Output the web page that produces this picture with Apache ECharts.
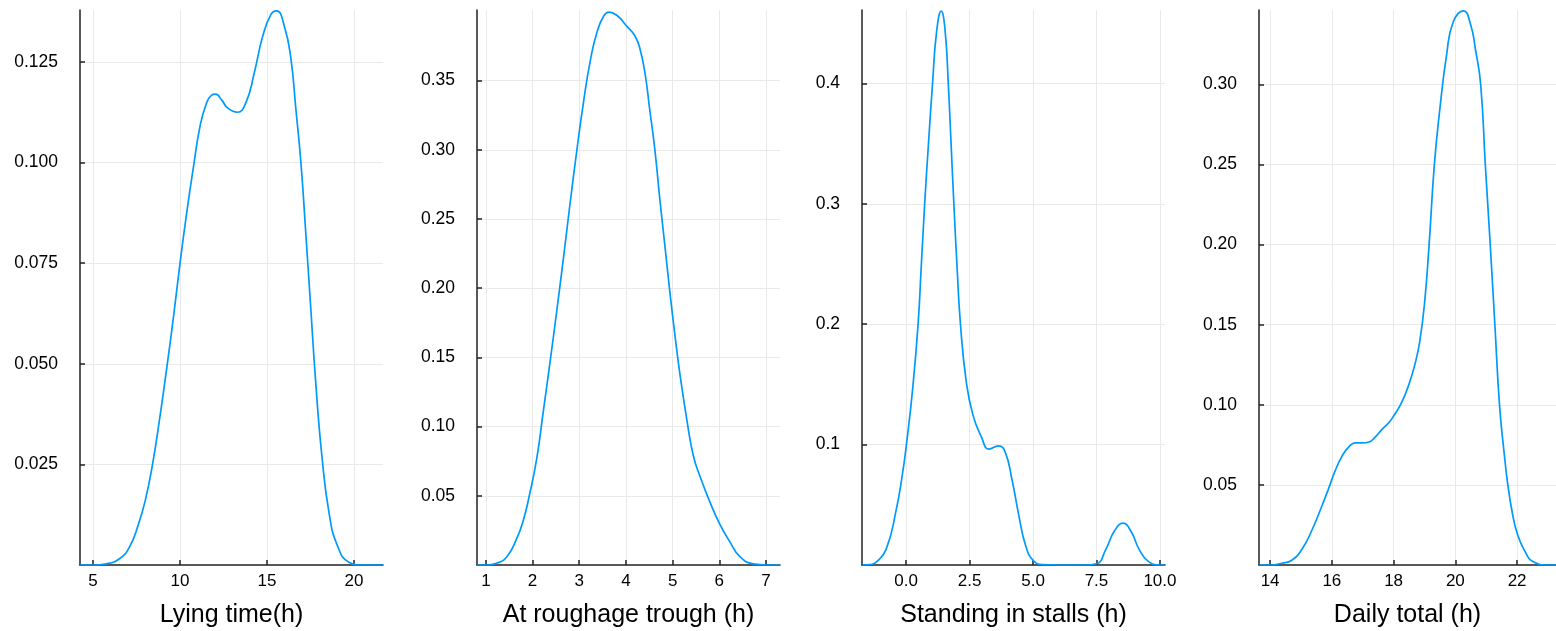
<!DOCTYPE html>
<html>
<head>
<meta charset="utf-8">
<title>Density plots</title>
<script src="https://cdn.jsdelivr.net/npm/echarts@6/dist/echarts.min.js"></script>
<style>
  html, body { margin: 0; padding: 0; background: #fff; }
  #chart { width: 1556px; height: 631px; }
</style>
</head>
<body>
<div id="chart"></div>
<script>
// panel titles
var panelNames = ['Lying time(h)', 'At roughage trough (h)', 'Standing in stalls (h)', 'Daily total (h)'];

// Lying time
var lyingX = [4.25, 5, 5.77, 6.54, 7.1, 7.6, 8.0, 8.42, 8.85, 9.27, 9.65, 10.0, 10.4, 10.81, 11.15, 11.5, 11.8, 12.05, 12.4, 12.75, 13.3, 13.8, 14.27, 14.75, 15.23, 15.55, 15.99, 16.37, 16.66, 16.95, 17.23, 17.52, 17.8, 18.15, 18.57, 19.05, 19.71, 20.48, 21.67];
var lyingY = [0, 0, 0.0003, 0.0016, 0.0045, 0.010, 0.016, 0.025, 0.037, 0.050, 0.0625, 0.075, 0.088, 0.100, 0.109, 0.1145, 0.1167, 0.117, 0.1155, 0.1135, 0.1125, 0.115, 0.1223, 0.1313, 0.1368, 0.1377, 0.134, 0.126, 0.1133, 0.100, 0.0825, 0.0636, 0.0455, 0.0274, 0.0129, 0.0048, 0.0007, 0, 0];

// At roughage trough
var troughX = [0.81, 1.0, 1.23, 1.45, 1.66, 1.80, 1.93, 2.09, 2.23, 2.38, 2.52, 2.67, 2.81, 2.95, 3.10, 3.24, 3.38, 3.53, 3.64, 3.81, 4.0, 4.19, 4.3, 4.41, 4.51, 4.62, 4.73, 4.84, 4.94, 5.05, 5.16, 5.3, 5.44, 5.59, 5.8, 6.01, 6.23, 6.44, 6.73, 7.01, 7.3];
var troughY = [0, 0, 0.0013, 0.006, 0.019, 0.032, 0.050, 0.077, 0.111, 0.148, 0.184, 0.224, 0.263, 0.300, 0.3365, 0.365, 0.385, 0.397, 0.3995, 0.397, 0.390, 0.3824, 0.373, 0.355, 0.329, 0.300, 0.263, 0.229, 0.1975, 0.166, 0.137, 0.106, 0.0795, 0.0637, 0.0454, 0.0296, 0.0165, 0.006, 0.0008, 0, 0];

// Standing in stalls
var standX = [-1.74, -1.4, -1.18, -0.79, -0.39, -0.15, 0.01, 0.25, 0.47, 0.6, 0.73, 0.88, 1.04, 1.2, 1.38, 1.53, 1.66, 1.77, 1.88, 2.0, 2.14, 2.37, 2.63, 2.96, 3.27, 3.64, 3.9, 4.18, 4.45, 4.71, 5.0, 5.37, 6.0, 7.0, 7.5, 7.87, 8.2, 8.55, 8.86, 9.18, 9.58, 10.0, 10.2];
var standY = [0, 0.0004, 0.0024, 0.013, 0.046, 0.075, 0.1, 0.145, 0.2, 0.25, 0.3, 0.35, 0.4, 0.443, 0.46, 0.445, 0.4, 0.35, 0.3, 0.25, 0.2, 0.152, 0.1247, 0.1066, 0.0963, 0.099, 0.094, 0.070, 0.040, 0.016, 0.0039, 0.0003, 0, 0, 0.001, 0.013, 0.028, 0.0347, 0.028, 0.013, 0.0024, 0, 0];

// Daily total
var totalX = [13.64, 14.0, 14.38, 14.7, 15.03, 15.36, 15.68, 15.9, 16.11, 16.33, 16.55, 16.76, 16.98, 17.2, 17.41, 17.63, 17.85, 18.0, 18.25, 18.5, 18.7, 18.85, 19.0, 19.15, 19.32, 19.5, 19.72, 19.93, 20.26, 20.5, 20.65, 20.82, 20.97, 21.13, 21.28, 21.43, 21.58, 21.7, 21.85, 22.0, 22.22, 22.54, 22.98, 23.26];
var totalY = [0, 0, 0.0011, 0.003, 0.0098, 0.022, 0.037, 0.048, 0.059, 0.068, 0.0738, 0.0763, 0.0762, 0.0768, 0.080, 0.0848, 0.089, 0.093, 0.101, 0.113, 0.126, 0.14, 0.163, 0.2, 0.25, 0.285, 0.319, 0.339, 0.346, 0.337, 0.322, 0.30, 0.25, 0.20, 0.15, 0.10, 0.07, 0.05, 0.032, 0.02, 0.0098, 0.0018, 0, 0];

// tick values
var xTicks = [[5, 10, 15, 20], [1, 2, 3, 4, 5, 6, 7], [0, 2.5, 5, 7.5, 10], [14, 16, 18, 20, 22]];
var yTicks = [[0.025, 0.05, 0.075, 0.1, 0.125], [0.05, 0.1, 0.15, 0.2, 0.25, 0.3, 0.35], [0.1, 0.2, 0.3, 0.4], [0.05, 0.1, 0.15, 0.2, 0.25, 0.3]];

var xRange = [[4.25, 21.67], [0.81, 7.3], [-1.74, 10.2], [13.64, 23.26]];
var yMax = [0.1379, 0.401, 0.461, 0.3465];
var xDec = [0, 0, 1, 0];
var yDec = [3, 2, 1, 2];
var gridLeft = [80, 477, 862, 1259];
var gridWidth = [303, 303, 303, 297];

var xs = [lyingX, troughX, standX, totalX];
var ys = [lyingY, troughY, standY, totalY];

var font = 'Liberation Sans, Arial, Helvetica, sans-serif';
var myChart = echarts.init(document.getElementById('chart'));

var option = {
    animation: false,
    backgroundColor: '#fff',
    grid: [],
    xAxis: [],
    yAxis: [],
    series: []
};

for (var i = 0; i < 4; i++) {
    (function (i) {
        option.grid.push({
            left: gridLeft[i],
            top: 10,
            width: gridWidth[i],
            height: 555,
            containLabel: false,
            outerBoundsMode: 'none'
        });
        option.xAxis.push({
            type: 'value',
            gridIndex: i,
            min: xRange[i][0],
            max: xRange[i][1],
            name: panelNames[i],
            nameLocation: 'middle',
            nameGap: 38,
            nameTextStyle: { fontSize: 25, color: '#000', fontFamily: font },
            axisLine: { show: true, onZero: false, lineStyle: { color: '#222', width: 1.5 } },
            axisTick: { show: true, inside: true, length: 5, customValues: xTicks[i], lineStyle: { color: '#222', width: 1.5 } },
            axisLabel: {
                customValues: xTicks[i],
                margin: 8,
                fontSize: 17,
                color: '#000',
                fontFamily: font,
                formatter: function (v) { return v.toFixed(xDec[i]); }
            },
            splitLine: { show: true, lineStyle: { color: '#e9e9e9', width: 1 } }
        });
        option.yAxis.push({
            type: 'value',
            gridIndex: i,
            min: 0,
            max: yMax[i],
            axisLine: { show: true, onZero: false, lineStyle: { color: '#222', width: 1.5 } },
            axisTick: { show: true, inside: true, length: 5, customValues: yTicks[i], lineStyle: { color: '#222', width: 1.5 } },
            axisLabel: {
                customValues: yTicks[i],
                margin: 22,
                fontSize: 17.5,
                color: '#000',
                fontFamily: font,
                formatter: function (v) { return v.toFixed(yDec[i]); }
            },
            splitLine: { show: true, lineStyle: { color: '#e9e9e9', width: 1 } }
        });
        var pts = [];
        for (var k = 0; k < xs[i].length; k++) {
            pts.push([xs[i][k], ys[i][k]]);
        }
        option.series.push({
            type: 'line',
            xAxisIndex: i,
            yAxisIndex: i,
            data: pts,
            smooth: 0.5,
            showSymbol: false,
            symbol: 'none',
            clip: true,
            lineStyle: { color: '#009AFA', width: 1.7 }
        });
    })(i);
}

myChart.setOption(option);
</script>
</body>
</html>
